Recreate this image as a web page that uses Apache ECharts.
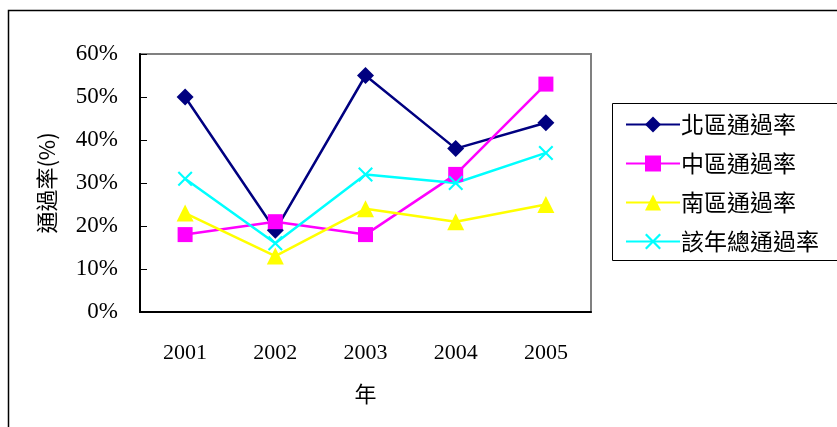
<!DOCTYPE html>
<html>
<head>
<meta charset="utf-8">
<script src="https://cdn.jsdelivr.net/npm/echarts@6/dist/echarts.min.js"></script>
<style>
  html, body { margin: 0; padding: 0; background: #fff; }
  #chart { width: 837px; height: 427px; }
</style>
</head>
<body>
<div id="chart"></div>
<script>
// Pass rates by region, 2001–2005 (percent)
const years = ['2001', '2002', '2003', '2004', '2005'];
const northRate = [50, 19, 55, 38, 44];
const centralRate = [18, 21, 18, 32, 53];
const southRate = [23, 13, 24, 21, 25];
const totalRate = [31, 16, 32, 30, 37];
const seriesNames = ['北區通過率', '中區通過率', '南區通過率', '該年總通過率'];
const yTicks = [0, 10, 20, 30, 40, 50, 60];

const serifFont = '"Liberation Serif", "Noto Sans CJK TC", serif';
const cjkFont = '"Noto Sans CJK TC", sans-serif';

// thin X-shaped marker
const crossSymbol = 'path://M0,1L1,0L5,4L9,0L10,1L6,5L10,9L9,10L5,6L1,10L0,9L4,5Z';

function lineSeries(name, data, color, symbol, size) {
  return {
    name: name,
    type: 'line',
    data: data,
    symbol: symbol,
    symbolSize: size,
    showAllSymbol: true,
    lineStyle: { color: color, width: 2.5 },
    itemStyle: { color: color },
    emphasis: { disabled: true },
    z: 3
  };
}

const chart = echarts.init(document.getElementById('chart'), null, { renderer: 'canvas' });
chart.setOption({
  animation: false,
  backgroundColor: '#fff',
  graphic: [
    {
      type: 'rect',
      shape: { x: 8.5, y: 10.5, width: 900, height: 600 },
      style: { fill: 'none', stroke: '#000', lineWidth: 1.5 },
      silent: true, z: 0
    },
    {
      type: 'rect',
      shape: { x: 612.5, y: 103.5, width: 300, height: 157 },
      style: { fill: '#fff', stroke: '#000', lineWidth: 1 },
      silent: true, z: 0
    }
  ],
  grid: {
    left: 140, top: 54, width: 451, height: 258,
    show: true, borderColor: '#808080', borderWidth: 2, backgroundColor: '#fff'
  },
  legend: {
    orient: 'vertical',
    left: 620, top: 108,
    itemWidth: 54, itemHeight: 20, itemGap: 16,
    textStyle: { fontFamily: cjkFont, fontSize: 23, color: '#000', padding: [0, 0, 0, -4] },
    data: seriesNames.map(n => ({ name: n }))
  },
  xAxis: {
    type: 'category',
    data: years,
    boundaryGap: true,
    name: '年',
    nameLocation: 'middle',
    nameGap: 71,
    nameTextStyle: { fontFamily: cjkFont, fontSize: 22, color: '#000' },
    axisLine: { lineStyle: { color: '#000', width: 2 } },
    axisTick: { inside: true, length: 7, lineStyle: { color: '#000', width: 1 } },
    axisLabel: { fontFamily: serifFont, fontSize: 22, color: '#000', margin: 30 },
    splitLine: { show: false }
  },
  yAxis: {
    type: 'value',
    min: 0, max: 60, interval: 10,
    name: '通過率(%)',
    nameLocation: 'middle',
    nameGap: 82,
    nameRotate: 90,
    nameTextStyle: { fontFamily: cjkFont, fontSize: 22, color: '#000' },
    axisLine: { show: true, lineStyle: { color: '#000', width: 2 } },
    axisTick: { show: true, inside: true, length: 7, lineStyle: { color: '#000', width: 1 } },
    axisLabel: {
      fontFamily: serifFont, fontSize: 23, color: '#000', margin: 22,
      formatter: v => (yTicks.includes(v) ? v + '%' : '')
    },
    splitLine: { show: false }
  },
  series: [
    lineSeries(seriesNames[0], northRate, '#000080', 'diamond', 17),
    lineSeries(seriesNames[1], centralRate, '#FF00FF', 'rect', 15),
    lineSeries(seriesNames[2], southRate, '#FFFF00', 'triangle', 17),
    lineSeries(seriesNames[3], totalRate, '#00FFFF', crossSymbol, 15)
  ]
});
</script>
</body>
</html>
